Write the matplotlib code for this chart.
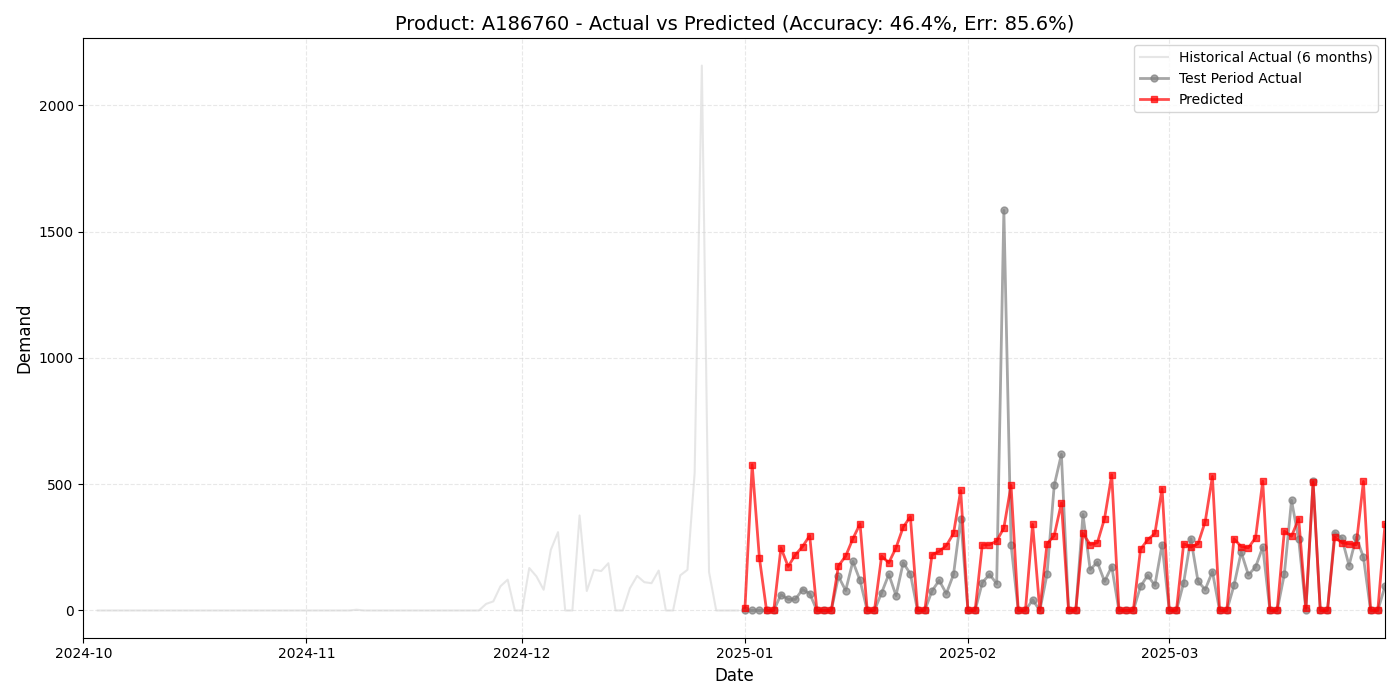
import numpy as np
import pandas as pd
import matplotlib
matplotlib.use('Agg')
import matplotlib.pyplot as plt
import matplotlib.dates as mdates

# historical demand, 2024-10-03 .. 2024-12-31
hist_dates = pd.date_range('2024-10-03', '2024-12-31', freq='D')
hist_vals = [0] * 36 + [3] + [0] * 17 + [
    26, 36, 96, 122, 0, 0, 168, 135, 82, 240, 310, 0, 0, 376, 77, 161, 156, 187,
    0, 0, 88, 137, 112, 108, 158, 0, 0, 139, 161, 545, 2157, 152, 0, 0, 0, 0]

# test period, 2025-01-01 .. 2025-03-31
test_dates = pd.date_range('2025-01-01', '2025-03-31', freq='D')
test_actual = [
    0, 0, 0, 0, 0, 63, 44, 44, 83, 67, 0, 0, 0, 135, 79, 194, 119, 0, 0, 70,
    143, 59, 189, 145, 0, 0, 77, 119, 67, 143, 364, 0, 0, 110, 143, 106, 1584, 260, 0, 0,
    42, 0, 143, 495, 618, 0, 0, 380, 162, 191, 115, 174, 0, 0, 0, 95, 139, 99, 261, 0,
    0, 110, 284, 115, 83, 154, 0, 0, 99, 231, 141, 172, 251, 0, 0, 143, 436, 281, 0, 512,
    0, 0, 308, 286, 178, 290, 211, 0, 0, 96]
predicted = [
    11, 577, 209, 0, 0, 248, 174, 220, 253, 296, 0, 0, 0, 177, 215, 284, 343, 0, 0, 215,
    189, 248, 330, 371, 0, 0, 220, 234, 257, 305, 475, 0, 0, 260, 260, 275, 327, 495, 0, 0,
    341, 0, 264, 296, 426, 0, 0, 305, 261, 268, 364, 537, 0, 0, 0, 242, 280, 305, 482, 0,
    0, 264, 251, 264, 352, 531, 0, 0, 284, 253, 248, 288, 512, 0, 0, 314, 294, 363, 9, 508,
    0, 0, 290, 268, 264, 260, 511, 0, 0, 341]

fig, ax = plt.subplots(figsize=(14, 7), dpi=100)
ax.plot(hist_dates, hist_vals, color='lightgray', alpha=0.55, linewidth=1.5,
        label='Historical Actual (6 months)')
ax.plot(test_dates, test_actual, color='gray', marker='o', markersize=5,
        linewidth=2, alpha=0.7, label='Test Period Actual')
ax.plot(test_dates, predicted, color='red', marker='s', markersize=5,
        linewidth=2, alpha=0.7, label='Predicted')

ax.set_xlim(pd.Timestamp('2024-10-01'), pd.Timestamp('2025-03-31'))
ax.xaxis.set_major_locator(mdates.MonthLocator())
ax.xaxis.set_major_formatter(mdates.DateFormatter('%Y-%m'))
ax.set_title('Product: A186760 - Actual vs Predicted (Accuracy: 46.4%, Err: 85.6%)', fontsize=14)
ax.set_xlabel('Date', fontsize=12)
ax.set_ylabel('Demand', fontsize=12)
ax.grid(True, linestyle='--', alpha=0.5, color='lightgray')
ax.legend(loc='upper right')
plt.tight_layout()
plt.savefig('out.png')
